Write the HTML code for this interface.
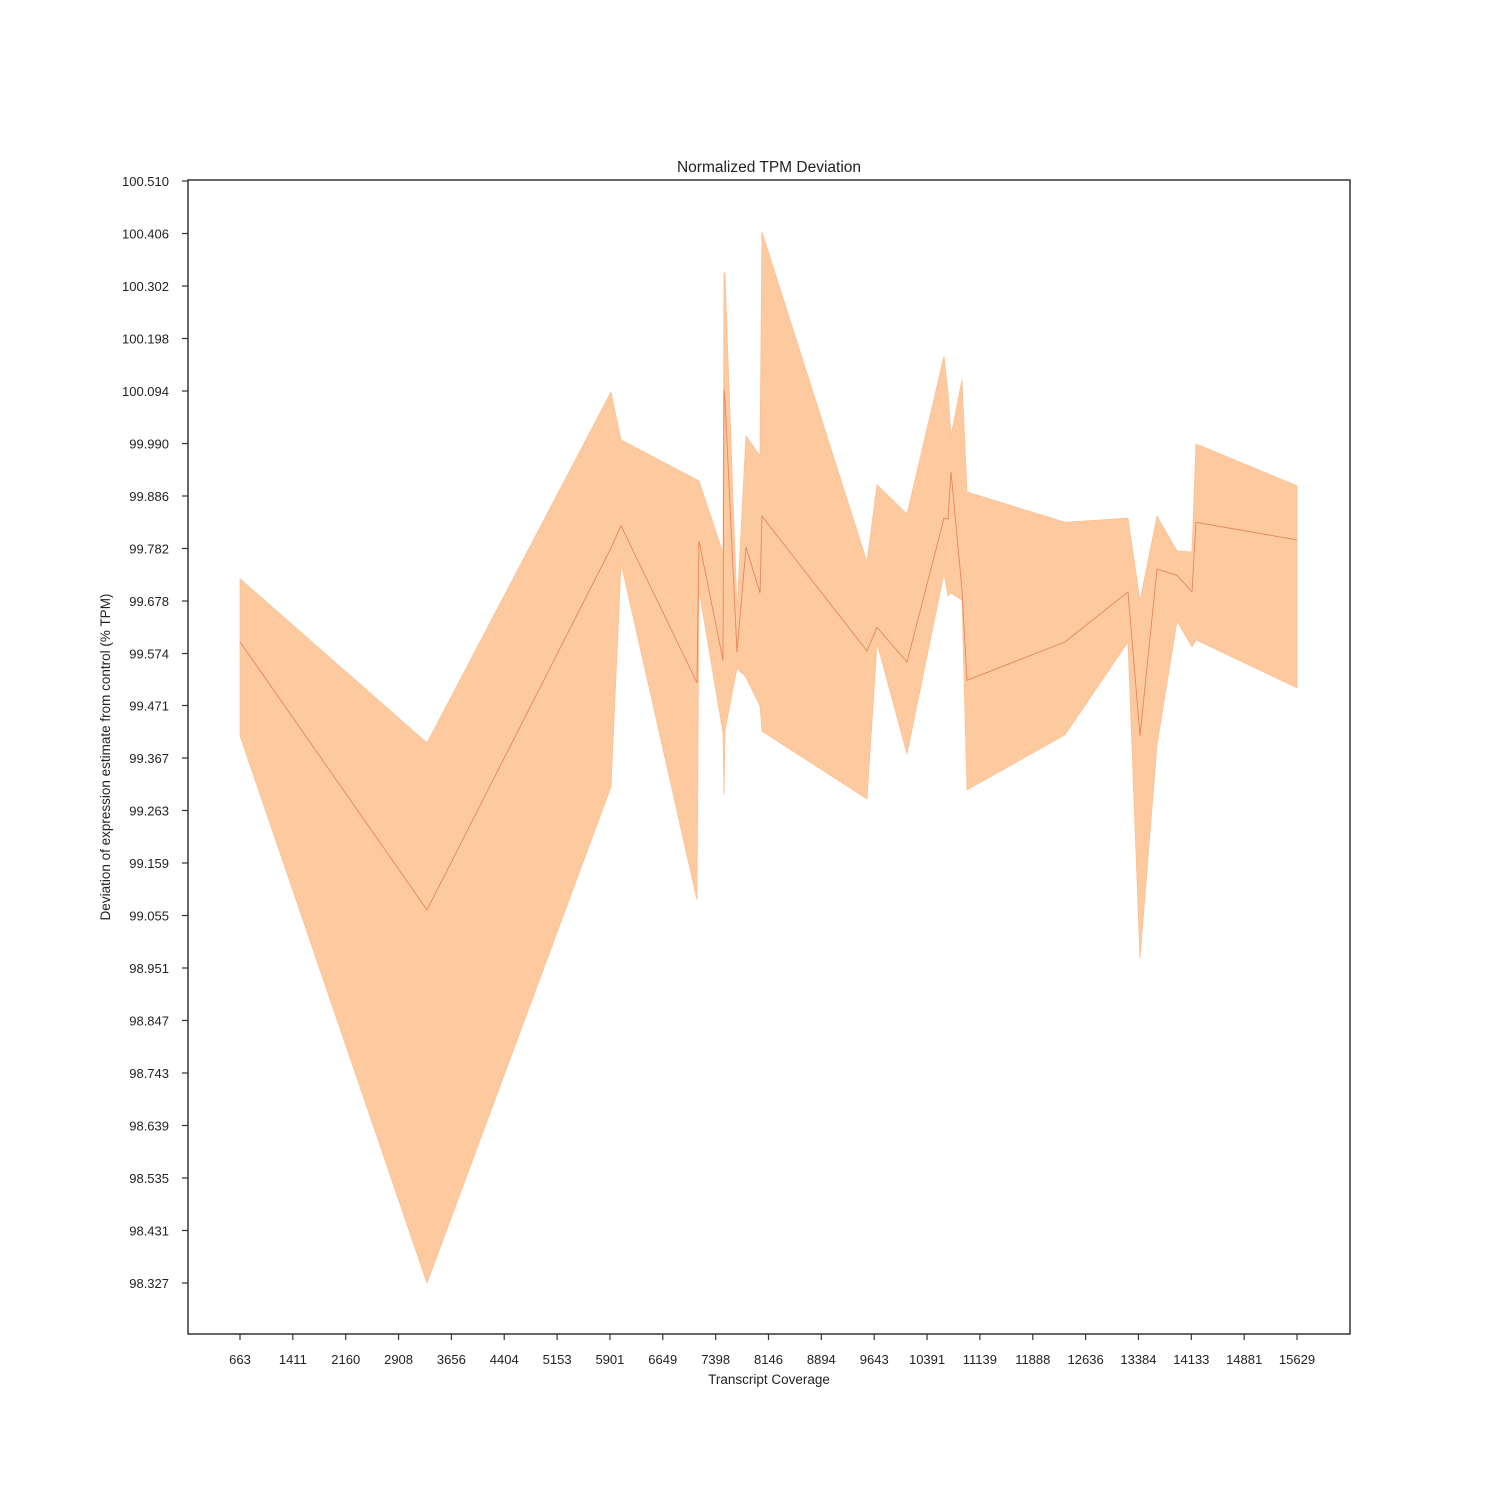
<!DOCTYPE html>
<html><head><meta charset="utf-8"><style>
html,body{margin:0;padding:0;background:#fff;}
svg{display:block;font-family:"Liberation Sans",sans-serif;}
</style></head><body>
<svg id="chart" width="1500" height="1500">
<rect x="0" y="0" width="1500" height="1500" fill="#fff"/>
<text x="769" y="172" font-size="15.5" text-anchor="middle" fill="#222">Normalized TPM Deviation</text>
<text x="769" y="1384" font-size="13.5" text-anchor="middle" fill="#222">Transcript Coverage</text>
<text x="110" y="757" font-size="13.5" text-anchor="middle" fill="#222" transform="rotate(-90 110 757)">Deviation of expression estimate from control (% TPM)</text>
<g id="marks"></g>
<g id="axes"></g>
</svg>
<script>
const xs=[663,3311,5916,6058,7134,7162,7502,7516,7530,7700,7827,8026,8054,9541,9682,10107,10631,10688,10730,10886,10957,12344,13236,13406,13647,13930,14142,14199,15629];
const means=[99.597,99.066,99.783,99.827,99.516,99.797,99.561,100.096,100.076,99.577,99.785,99.694,99.846,99.579,99.626,99.557,99.842,99.840,99.934,99.700,99.521,99.597,99.696,99.411,99.741,99.729,99.696,99.834,99.799];
const uppers=[99.722,99.397,100.092,99.997,99.918,99.916,99.773,100.330,100.324,99.660,100.005,99.965,100.409,99.755,99.908,99.850,100.163,100.090,100.005,100.116,99.894,99.834,99.842,99.678,99.846,99.777,99.775,99.989,99.906];
const lowers=[99.411,98.327,99.310,99.753,99.086,99.700,99.417,99.294,99.422,99.545,99.527,99.470,99.420,99.286,99.595,99.375,99.733,99.688,99.694,99.680,99.304,99.413,99.597,98.971,99.393,99.638,99.587,99.601,99.506];
const xTicks=[663,1411,2160,2908,3656,4404,5153,5901,6649,7398,8146,8894,9643,10391,11139,11888,12636,13384,14133,14881,15629];
const yTicks=[100.510,100.406,100.302,100.198,100.094,99.990,99.886,99.782,99.678,99.574,99.471,99.367,99.263,99.159,99.055,98.951,98.847,98.743,98.639,98.535,98.431,98.327];
const X0=188,X1=1350,Y0=180,Y1=1334;
function sx(v){return 240+(v-663)*(1297-240)/(15629-663);}
function sy(v){return 181+(100.510-v)*(1283-181)/(100.510-98.327);}
const NS="http://www.w3.org/2000/svg";
const marks=document.getElementById('marks'),axes=document.getElementById('axes');
function mk(tag,attrs,parent){const e=document.createElementNS(NS,tag);for(const k in attrs)e.setAttribute(k,attrs[k]);parent.appendChild(e);return e;}
let pts=xs.map((x,i)=>sx(x).toFixed(1)+','+sy(uppers[i]).toFixed(1));
for(let i=xs.length-1;i>=0;i--)pts.push(sx(xs[i]).toFixed(1)+','+sy(lowers[i]).toFixed(1));
const band=mk('polygon',{points:pts.join(' '),fill:'#fdca9f',stroke:'#fbc093','stroke-width':'0.8'},marks);


const line=mk('polyline',{points:xs.map((x,i)=>sx(x).toFixed(1)+','+sy(means[i]).toFixed(1)).join(' '),fill:'none',stroke:'#e8855c','stroke-width':'0.9'},marks);


const frame=mk('rect',{x:X0,y:Y0,width:X1-X0,height:Y1-Y0,fill:'none',stroke:'#333','stroke-width':'1.5'},axes);


xTicks.forEach(t=>{const x=sx(t);
 const l=mk('line',{x1:x,x2:x,y1:Y1,y2:Y1+6,stroke:'#333','stroke-width':'1.2'},axes);
 
 
 const tx=mk('text',{x:x,y:Y1+30,'font-size':'13','text-anchor':'middle',fill:'#222'},axes);tx.textContent=t;
 
 });
yTicks.forEach(t=>{const y=sy(t);
 const l=mk('line',{x1:X0-6,x2:X0,y1:y,y2:y,stroke:'#333','stroke-width':'1.2'},axes);
 
 
 const tx=mk('text',{x:X0-19,y:y+5,'font-size':'13','text-anchor':'end',fill:'#222'},axes);tx.textContent=t.toFixed(3);
 
 });
</script>
</body></html>
